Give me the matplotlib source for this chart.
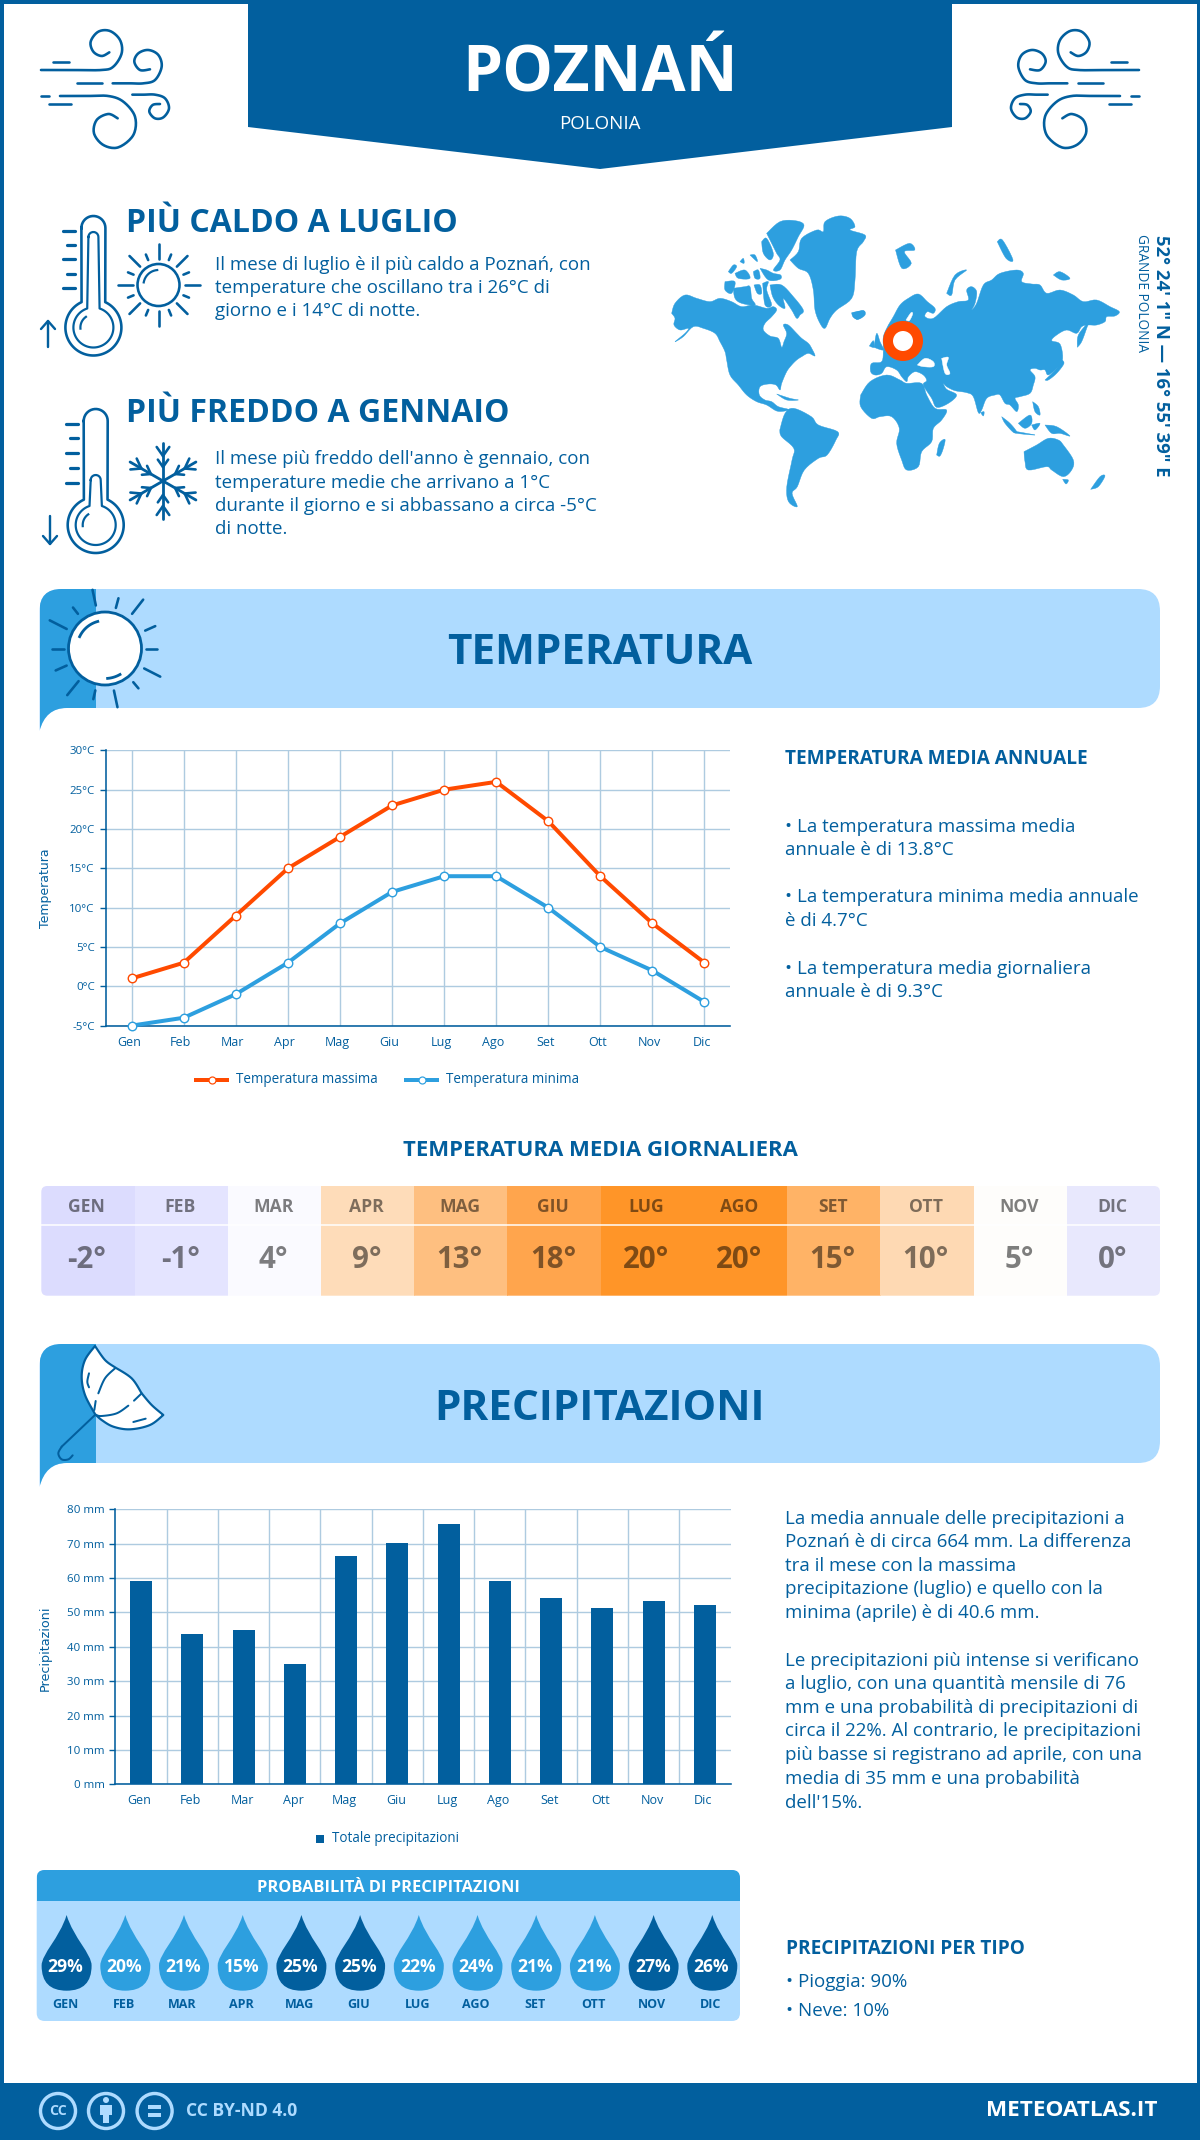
import numpy as np
import matplotlib
matplotlib.use("Agg")
import matplotlib.pyplot as plt
from matplotlib.patches import Circle, PathPatch, Polygon, Rectangle, FancyBboxPatch
from matplotlib.path import Path
from matplotlib.transforms import ScaledTranslation

W, H = 1200, 2140
DARK = "#025f9e"
MID = "#2d9fdf"
LIGHT = "#aedbff"
ORANGE = "#ff4a00"
GRID = "#aecbe0"

months = ["Gen", "Feb", "Mar", "Apr", "Mag", "Giu", "Lug", "Ago", "Set", "Ott", "Nov", "Dic"]
months_up = [m.upper() for m in months]
temp_max = [1, 3, 9, 15, 19, 23, 25, 26, 21, 14, 8, 3]
temp_min = [-5, -4, -1, 3, 8, 12, 14, 14, 10, 5, 2, -2]
temp_avg = [-2, -1, 4, 9, 13, 18, 20, 20, 15, 10, 5, 0]
temp_cols = ["#dcdcfe", "#e4e4ff", "#fafaff", "#fedcb9", "#febf80", "#ffa54d",
             "#ff9528", "#ff9528", "#ffb366", "#fed9b3", "#fefdfb", "#e8e8fd"]
rain = [59, 43.6, 44.8, 35, 66.4, 70.2, 75.6, 59.2, 54.2, 51.2, 53.3, 52.2]
rain_prob = [29, 20, 21, 15, 25, 25, 22, 24, 21, 21, 27, 26]

plt.rcParams["font.family"] = ["Open Sans", "DejaVu Sans"]

fig = plt.figure(figsize=(W / 100, H / 100), dpi=100, facecolor="white")
bg = fig.add_axes([0, 0, 1, 1])
bg.set_xlim(0, W)
bg.set_ylim(H, 0)
bg.axis("off")


def px(size):
    return size * 0.72


def txt(x, y, s, size, color=DARK, weight="normal", ha="left", va="center", **kw):
    bg.text(x, y, s, fontsize=px(size), color=color, fontweight=weight, ha=ha, va=va, **kw)


def smooth(pts, n=12):
    # catmull-rom, only for the icons and the map outline
    p = np.array(pts, dtype=float)
    p = np.vstack([p[0], p, p[-1]])
    out = []
    for i in range(1, len(p) - 2):
        for t in np.linspace(0, 1, n, endpoint=False):
            out.append(0.5 * (2 * p[i] + (p[i + 1] - p[i - 1]) * t
                              + (2 * p[i - 1] - 5 * p[i] + 4 * p[i + 1] - p[i + 2]) * t ** 2
                              + (3 * p[i] - p[i - 1] - 3 * p[i + 1] + p[i + 2]) * t ** 3))
    out.append(p[-2])
    return np.array(out)


def stroke(pts, lw=2.6, color=DARK, curve=True, z=5):
    a = smooth(pts) if curve else np.array(pts, dtype=float)
    bg.plot(a[:, 0], a[:, 1], color=color, lw=px(lw), solid_capstyle="round", zorder=z)


def ray_ring(cx, cy, r0s, r1s, angs, lw=2.6):
    for r0, r1, a in zip(r0s, r1s, angs):
        c, s = np.cos(np.radians(a)), np.sin(np.radians(a))
        stroke([(cx + r0 * c, cy + r0 * s), (cx + r1 * c, cy + r1 * s)], lw=lw, curve=False)


# frame and header
bg.add_patch(Rectangle((0, 0), 3.5, H, color=DARK, lw=0))
bg.add_patch(Rectangle((W - 3.5, 0), 3.5, H, color=DARK, lw=0))
bg.add_patch(Rectangle((0, 0), W, 3.5, color=DARK, lw=0))
bg.add_patch(Polygon([(248, 0), (952, 0), (952, 127), (600, 169), (248, 127)], color=DARK, lw=0))
txt(600, 67, "POZNAŃ", 64, "white", "bold", ha="center", va="center_baseline")
txt(600, 124, "POLONIA", 18.8, "white", ha="center")

wind = [
    [(33, 150), (120, 150), (215, 150), (250, 140), (275, 100), (270, 60), (240, 33), (205, 35), (182, 65), (190, 95), (215, 108), (238, 97)],
    [(248, 190), (300, 190), (340, 190), (375, 180), (395, 140), (385, 105), (355, 90), (325, 100), (313, 125), (330, 150), (360, 148)],
    [(90, 228), (170, 228), (235, 228), (280, 245), (315, 290), (310, 345), (265, 382), (220, 375), (192, 340), (200, 300), (235, 282), (263, 295)],
    [(307, 224), (340, 224), (375, 224), (405, 235), (417, 265), (400, 292), (375, 295), (358, 275), (368, 255), (390, 252)],
]
dashes = [[(70, 125), (118, 125)], [(140, 190), (215, 190)], [(33, 228), (58, 228)], [(57, 252), (122, 252)]]
for mirror in (False, True):
    for shape in wind + dashes:
        pts = [(30 + x / 3, 20 + y / 3) for x, y in shape]
        if mirror:
            pts = [(1180 - x, y) for x, y in pts]
        stroke(pts, 2.6, curve=len(pts) > 2)


def thermometer(cx, cy, top, inner_top, tick_ys, arrow_x, arrow_from, arrow_to):
    cap = np.linspace(np.pi, 0, 20)
    bulb = np.linspace(np.radians(-65), np.radians(245), 90)
    ox = np.r_[cx + 12 * np.cos(cap), cx + 28 * np.cos(bulb)]
    oy = np.r_[top + 12 - 12 * np.sin(cap), cy + 28 * np.sin(bulb)]
    bg.plot(np.r_[ox, ox[0]], np.r_[oy, oy[0]], color=DARK, lw=px(2.6))
    bulb2 = np.linspace(np.radians(-72), np.radians(252), 80)
    cap2 = np.linspace(np.pi, 0, 12)
    ix = np.r_[cx + 5 * np.cos(cap2), cx + 20 * np.cos(bulb2)]
    iy = np.r_[inner_top + 5 - 5 * np.sin(cap2), cy + 20 * np.sin(bulb2)]
    bg.plot(np.r_[ix, ix[0]], np.r_[iy, iy[0]], color=DARK, lw=px(2.2))
    shine = np.linspace(np.radians(175), np.radians(235), 12)
    bg.plot(cx + 13 * np.cos(shine), cy + 13 * np.sin(shine), color=DARK, lw=px(2.2))
    for i, y in enumerate(tick_ys):
        x0 = cx - 30 if i % 2 == 0 else cx - 26
        stroke([(x0, y), (cx - 18, y)], 3.2, curve=False)
    stroke([(arrow_x, arrow_from), (arrow_x, arrow_to)], 2.4, curve=False)
    d = 1 if arrow_to > arrow_from else -1
    stroke([(arrow_x - 7, arrow_to - d * 8), (arrow_x, arrow_to), (arrow_x + 7, arrow_to - d * 8)], 2.4, curve=False)


thermometer(93.4, 327.5, 216, 232, [231, 245, 259, 274, 288], 48, 347, 321)
thermometer(95.7, 525, 409, 475, [424, 438, 453, 468, 483], 50, 516, 544)

# small sun
bg.add_patch(Circle((158.5, 285), 21, fc="none", ec=DARK, lw=px(2.6)))
shine = np.linspace(np.radians(190), np.radians(265), 12)
bg.plot(158.5 + 15 * np.cos(shine), 285 + 15 * np.sin(shine), color=DARK, lw=px(2.2))
a_s = np.arange(0, 360, 22.5)
ray_ring(158.5, 285, [27 if i % 2 else 26 for i in range(16)],
         [33 if i % 2 else 41 for i in range(16)], a_s)

# snowflake
for a in (90, 30, 150):
    c, s = np.cos(np.radians(a)), np.sin(np.radians(a))
    stroke([(163 - 38 * c, 481 - 38 * s), (163 + 38 * c, 481 + 38 * s)], 2.8, curve=False)
    for sign in (-1, 1):
        for r, l in ((14, 9), (25, 11)):
            bx, by = 163 + sign * r * c, 481 + sign * r * s
            for da in (35, -35):
                e = np.radians(a + da)
                stroke([(bx, by), (bx + sign * l * np.cos(e), by + sign * l * np.sin(e))], 2.6, curve=False)

# section intro text
txt(125.5, 220, "PIÙ CALDO A LUGLIO", 32, weight="bold", va="center_baseline")
txt(125.5, 410, "PIÙ FREDDO A GENNAIO", 32, weight="bold", va="center_baseline")
hot = ["Il mese di luglio è il più caldo a Poznań, con",
       "temperature che oscillano tra i 26°C di",
       "giorno e i 14°C di notte."]
cold = ["Il mese più freddo dell'anno è gennaio, con",
        "temperature medie che arrivano a 1°C",
        "durante il giorno e si abbassano a circa -5°C",
        "di notte."]
for y, s in zip([264.5, 288, 311.5], hot):
    txt(215, y, s, 18.8)
for y, s in zip([459, 482.5, 506, 529.5], cold):
    txt(215, y, s, 18.8)

land_west = [
    [(5, 310), (15, 280), (45, 255), (80, 265), (120, 275), (150, 265), (185, 275), (215, 290), (250, 285), (290, 295),
     (310, 290), (320, 300), (305, 320), (285, 340), (280, 360), (300, 378), (325, 385), (335, 412), (342, 395),
     (350, 370), (340, 345), (355, 345), (380, 370), (395, 385), (415, 400), (425, 415), (435, 438), (415, 430),
     (395, 440), (380, 450), (365, 465), (350, 485), (335, 520), (330, 540), (318, 525), (295, 522), (270, 530),
     (268, 555), (285, 570), (305, 575), (325, 590), (355, 598), (345, 603), (320, 603), (290, 585), (260, 575),
     (230, 555), (205, 525), (180, 495), (170, 450), (165, 425), (150, 395), (135, 370), (100, 355), (70, 350),
     (40, 380), (15, 395), (45, 370), (55, 355), (30, 360), (12, 345), (15, 325)],
    [(360, 150), (385, 125), (395, 85), (440, 60), (460, 65), (465, 35), (505, 18), (540, 25), (555, 50), (540, 60),
     (585, 75), (580, 95), (560, 125), (555, 210), (545, 265), (500, 300), (480, 325), (465, 355), (450, 340),
     (435, 300), (430, 240), (415, 190), (385, 175)],
    [(290, 70), (330, 35), (375, 32), (402, 45), (385, 80), (365, 120), (345, 150), (330, 180), (310, 180), (330, 150),
     (320, 130), (305, 100)],
    [(275, 95), (290, 85), (310, 130), (300, 150), (280, 130)],
    [(175, 185), (190, 165), (200, 170), (185, 190)],
    [(210, 155), (220, 145), (222, 160)],
    [(240, 135), (255, 135), (262, 155)],
    [(195, 190), (225, 180), (240, 205), (205, 205)],
    [(250, 185), (265, 180), (270, 205), (255, 205)],
    [(270, 175), (290, 180), (310, 190), (332, 195), (330, 208), (295, 210)],
    [(165, 215), (195, 215), (185, 250), (165, 240)],
    [(190, 235), (225, 230), (240, 230), (245, 265), (255, 285), (215, 280), (195, 265)],
    [(252, 225), (270, 225), (275, 250), (262, 250)],
    [(278, 220), (295, 215), (290, 240), (305, 285), (285, 285)],
    [(300, 225), (335, 225), (370, 260), (400, 300), (390, 315), (380, 325), (365, 300), (340, 265), (345, 295),
     (325, 285), (308, 260)],
    [(545, 310), (580, 302), (585, 315), (565, 328), (550, 322)],
    [(320, 552), (360, 565), (385, 570), (350, 570)],
]
land_east = [
    [(145, 165), (160, 140), (180, 105), (205, 85), (235, 72), (262, 95), (285, 115), (280, 130), (262, 125), (255, 140),
     (280, 145), (320, 110), (355, 95), (385, 90), (380, 60), (395, 50), (410, 65), (405, 100), (395, 120), (410, 100),
     (430, 45), (455, 30), (480, 10), (530, 0), (550, 10), (545, 35), (575, 42), (600, 45), (620, 70), (660, 60),
     (700, 75), (730, 95), (770, 90), (810, 110), (838, 125), (825, 138), (800, 140), (795, 155), (770, 165), (745, 165),
     (725, 170), (710, 190), (680, 180), (650, 195), (635, 212), (660, 222), (668, 265), (655, 290), (625, 315),
     (615, 300), (600, 300), (585, 295), (570, 300), (585, 320), (580, 345), (570, 370), (540, 380), (525, 385),
     (535, 405), (530, 425), (510, 405), (495, 400), (480, 375), (465, 375), (440, 385), (425, 420), (415, 428),
     (400, 380), (380, 368), (345, 362), (320, 350), (310, 340), (320, 358), (350, 375), (325, 400), (290, 412),
     (275, 385), (250, 345), (260, 332), (250, 315), (225, 305), (205, 320), (200, 335), (185, 320), (170, 300),
     (140, 290), (125, 310), (105, 315), (92, 305), (95, 280), (125, 275), (130, 240), (130, 200)],
    [(62, 375), (90, 335), (140, 315), (180, 330), (200, 340), (245, 340), (260, 375), (285, 415), (320, 420),
     (305, 450), (280, 475), (275, 515), (245, 545), (235, 590), (200, 600), (185, 570), (170, 520), (178, 475),
     (155, 440), (120, 440), (95, 445), (62, 410)],
    [(290, 555), (298, 520), (315, 508), (310, 535), (300, 558)],
    [(712, 232), (715, 195), (745, 158), (740, 175), (725, 215)],
    [(615, 330), (650, 295), (660, 270), (672, 280), (650, 310), (625, 330)],
    [(610, 295), (640, 270), (635, 290)],
    [(535, 460), (570, 435), (575, 460), (555, 475)],
    [(485, 440), (510, 460), (530, 485), (520, 487), (495, 460)],
    [(520, 483), (585, 495), (530, 490)],
    [(575, 465), (600, 460), (585, 480)],
    [(615, 465), (650, 470), (690, 498), (660, 490), (635, 490)],
    [(578, 395), (595, 410), (600, 435), (585, 425)],
    [(552, 545), (590, 525), (625, 505), (655, 510), (670, 525), (700, 570), (695, 600), (670, 620), (635, 600),
     (620, 590), (565, 600), (555, 575)],
    [(668, 628), (685, 630), (678, 642)],
    [(752, 658), (780, 620), (795, 618), (775, 650)],
    [(422, 428), (432, 425), (430, 438)],
    [(102, 232), (110, 190), (120, 215), (130, 240)],
    [(88, 228), (100, 212), (102, 232)],
    [(320, 70), (345, 15), (380, 0), (345, 30), (335, 75)],
    [(35, 128), (70, 122), (72, 135), (50, 148)],
    [(640, 15), (660, 5), (690, 25), (665, 30)],
]
water_east = [
    [(232, 285), (255, 265), (280, 275), (280, 290), (250, 290)],
    [(305, 265), (325, 262), (320, 285), (330, 310), (315, 310)],
    [(198, 150), (213, 128), (218, 132), (208, 152)],
]
# south america and the polar islands come from the wider crop at (650, 200), 2.851 x 3
land_wide = [
    [(370, 690), (385, 640), (410, 625), (460, 650), (480, 675), (535, 695), (530, 720), (505, 765), (480, 775),
     (440, 810), (420, 860), (405, 880), (420, 920), (395, 905), (390, 860), (405, 780), (410, 745), (375, 710)],
    [(700, 150), (740, 130), (755, 150), (725, 155), (745, 190), (718, 205)],
    [(990, 125), (1005, 120), (1035, 180), (1015, 175)],
]


def blob(points, map_x, map_y, color, z):
    pts = [(map_x(x), map_y(y)) for x, y in points]
    bg.add_patch(Polygon(smooth(pts + [pts[0]], 5), color=color, lw=0.3, zorder=z))


for pts in land_west:
    blob(pts, lambda v: 670 + v / 3, lambda v: 210 + v / 3, MID, 2)
for pts in land_east:
    blob(pts, lambda v: 840 + v / 3, lambda v: 270 + v / 3, MID, 2)
for pts in land_wide:
    blob(pts, lambda v: 650 + v / 2.851, lambda v: 200 + v / 3, MID, 2)
for pts in water_east:
    blob(pts, lambda v: 840 + v / 3, lambda v: 270 + v / 3, "white", 3)
bg.add_patch(Circle((903, 341), 15, fc="white", ec=ORANGE, lw=px(10), zorder=4))

bg.text(1161, 356, "52° 24' 1\" N — 16° 55' 39\" E", fontsize=px(18.5), color=DARK, fontweight="bold",
        rotation=-90, ha="center", va="center")
bg.text(1141.5, 293, "GRANDE POLONIA", fontsize=px(13.6), color=DARK, rotation=-90, ha="center", va="center")


def banner(top, bottom, tail, tab_right, title):
    x0, x1, r = 39.5, 1160, 22
    verts = [(x0, tail), (x0, top + r), (x0, top), (x0 + r, top), (x1 - r, top), (x1, top), (x1, top + r),
             (x1, bottom - r), (x1, bottom), (x1 - r, bottom), (x0 + 27, bottom), (x0 + 6, bottom), (x0, tail), (x0, tail)]
    codes = [Path.MOVETO, Path.LINETO, Path.CURVE3, Path.CURVE3, Path.LINETO, Path.CURVE3, Path.CURVE3,
             Path.LINETO, Path.CURVE3, Path.CURVE3, Path.LINETO, Path.CURVE3, Path.CURVE3, Path.CLOSEPOLY]
    shape = Path(verts, codes)
    bg.add_patch(PathPatch(shape, fc=LIGHT, ec="none", zorder=1))
    tab = Rectangle((x0, top), tab_right - x0, tail - top, fc=MID, ec="none", zorder=1.5)
    bg.add_patch(tab)
    tab.set_clip_path(PathPatch(shape, transform=bg.transData))
    txt(600, (top + bottom) / 2 + 0.5, title, 42.2, weight="bold", ha="center", va="center_baseline")


banner(589, 708, 731, 96, "TEMPERATURA")
banner(1344, 1463, 1487, 96, "PRECIPITAZIONI")

# big sun
bg.add_patch(Circle((105, 648.5), 36.5, fc="white", ec=DARK, lw=px(2.8), zorder=5))
a = np.radians(np.linspace(205, 255, 12))
bg.plot(105 + 28 * np.cos(a), 648.5 + 28 * np.sin(a), color=DARK, lw=px(2.8), zorder=6)
a = np.radians(np.linspace(60, 85, 8))
bg.plot(105 + 30 * np.cos(a), 648.5 + 30 * np.sin(a), color=DARK, lw=px(2.8), zorder=6)
a_big = [0, 27, 50, 78, 103, 129, 156, 180, 207, 232, 258, 285, 308, 336]
r_in = [41, 44, 44, 43, 43, 42, 42, 41, 43, 44, 44, 42, 44, 44]
r_out = [52, 62, 52, 60, 52, 60, 54, 53, 62, 52, 60, 52, 62, 55]
for ang, r0, r1 in zip(a_big, r_in, r_out):
    c, s = np.cos(np.radians(ang)), np.sin(np.radians(ang))
    bg.plot([105 + r0 * c, 105 + r1 * c], [648.5 + r0 * s, 648.5 + r1 * s], color=DARK, lw=px(2.6),
            solid_capstyle="round", zorder=5)


def um(pts):
    return [(30 + x / 3, 1340 + y / 3) for x, y in pts]


um_edges = [
    [(195, 18), (225, 60), (255, 82)],
    [(255, 82), (305, 115), (335, 160)],
    [(335, 160), (365, 195), (400, 225)],
    [(400, 225), (360, 255), (300, 268), (250, 260), (215, 240), (195, 222)],
    [(195, 222), (165, 165), (155, 110), (165, 60), (195, 18)],
]
um_outline = np.vstack([smooth(um(e), 8) for e in um_edges])
bg.add_patch(Polygon(um_outline, fc="white", ec=DARK, lw=px(2.2), joinstyle="round", zorder=5))
for pts in ([(255, 85), (225, 115), (205, 160)], [(197, 183), (193, 210)], [(335, 160), (312, 182)],
            [(295, 197), (260, 220), (215, 228), (198, 225)], [(177, 100), (172, 125), (177, 142)],
            [(310, 246), (347, 236)]):
    stroke(um(pts), 2.0, z=6, curve=len(pts) > 2)
stroke(um([(195, 225), (95, 320)]), 2.0, z=6, curve=False)
stroke(um([(95, 320), (85, 340), (95, 358), (115, 358), (128, 346)]), 2.0, z=6)

# temperature chart
ax = fig.add_axes([105.7 / W, 1 - 1025.6 / H, (730.5 - 105.7) / W, (1025.6 - 750.4) / H])
ax.patch.set_alpha(0)
x = np.arange(12)
ax.plot(x, temp_max, color=ORANGE, lw=px(4), marker="o", ms=px(8.5), mfc="white", mec=ORANGE, mew=px(1.4),
        clip_on=False, zorder=4)
ax.plot(x, temp_min, color=MID, lw=px(4), marker="o", ms=px(8.5), mfc="white", mec=MID, mew=px(1.4),
        clip_on=False, zorder=4)
ax.set_xlim(-0.5, 11.5)
ax.set_ylim(-5, 30)
ax.set_yticks(np.arange(-5, 31, 5))
ax.set_yticklabels([f"{v}°C" for v in range(-5, 31, 5)])
ax.set_xticks(x)
ax.set_xticklabels(months)
ax.grid(True, color=GRID, lw=px(1.4))
ax.set_axisbelow(True)

# rain chart
ax2 = fig.add_axes([115.4 / W, 1 - 1784.3 / H, (730.5 - 115.4) / W, (1784.3 - 1509.3) / H])
ax2.patch.set_alpha(0)
ax2.bar(x, rain, width=0.43, color=DARK, zorder=3)
ax2.set_xlim(-0.5, 11.5)
ax2.set_ylim(0, 80)
ax2.set_yticks(np.arange(0, 81, 10))
ax2.set_yticklabels([f"{v} mm" for v in range(0, 81, 10)])
ax2.set_xticks(x)
ax2.set_xticklabels(months)
ax2.set_xticks(np.arange(0.5, 11, 1), minor=True)
ax2.grid(True, axis="y", color=GRID, lw=px(1.4))
ax2.grid(True, axis="x", which="minor", color=GRID, lw=px(1.4))
ax2.tick_params(axis="x", which="minor", length=0)
ax2.set_axisbelow(True)

for a_, shift in ((ax, -3), (ax2, -1.5)):
    for side in ("top", "right"):
        a_.spines[side].set_visible(False)
    for side in ("left", "bottom"):
        a_.spines[side].set_color(DARK)
        a_.spines[side].set_linewidth(px(1.6))
    a_.tick_params(axis="y", color=DARK, length=px(6), width=px(1.4), labelcolor=DARK, labelsize=px(11.5), pad=px(5))
    a_.tick_params(axis="x", length=0, labelcolor=DARK, labelsize=px(12.5), pad=px(10))
    for lbl in a_.get_xticklabels():
        lbl.set_transform(lbl.get_transform() + ScaledTranslation(shift / 100, 0, fig.dpi_scale_trans))

txt(45, 888.5, "Temperatura", 12.5, rotation=90, ha="center", family="DejaVu Sans")
txt(45, 1648, "Precipitazioni", 12.7, rotation=90, ha="center", family="DejaVu Sans")

# legends by hand, same spacing as the source
y_leg = 1079.6
bg.plot([196, 227], [y_leg, y_leg], color=ORANGE, lw=px(4))
bg.plot([212], [y_leg], "o", ms=px(7), mfc="white", mec=ORANGE, mew=px(1.2))
txt(236, y_leg, "Temperatura massima", 13.5)
bg.plot([406, 437], [y_leg, y_leg], color=MID, lw=px(4))
bg.plot([421.5], [y_leg], "o", ms=px(7), mfc="white", mec=MID, mew=px(1.2))
txt(446, y_leg, "Temperatura minima", 13.5)
bg.add_patch(Rectangle((316, 1834.7), 8, 8, color=DARK, lw=0))
txt(332, 1838.7, "Totale precipitazioni", 13.5)

# right column, temperature
txt(785, 758.5, "TEMPERATURA MEDIA ANNUALE", 19, weight="bold")
notes = ["• La temperatura massima media", "annuale è di 13.8°C",
         "• La temperatura minima media annuale", "è di 4.7°C",
         "• La temperatura media giornaliera", "annuale è di 9.3°C"]
for y, s in zip([827, 850, 897.5, 921, 968.5, 992], notes):
    txt(785, y, s, 18.8)

# daily average table
txt(600, 1150, "TEMPERATURA MEDIA GIORNALIERA", 22.2, weight="bold", ha="center")
x0, cw = 41.3, (1160 - 41.3) / 12
table_clip = FancyBboxPatch((x0 + 5, 1186 + 5), 1160 - x0 - 10, 109.7 - 10, boxstyle="round,pad=5,rounding_size=6",
                            transform=bg.transData)
for i in range(12):
    cell = Rectangle((x0 + i * cw, 1186), cw + 0.3, 109.7, fc=temp_cols[i], ec="none")
    bg.add_patch(cell)
    cell.set_clip_path(table_clip)
    txt(x0 + (i + 0.5) * cw - 1, 1207, months_up[i], 17.5, "#00000080", "bold", ha="center")
    txt(x0 + (i + 0.5) * cw - 1, 1260.5, f"{temp_avg[i]}°", 29.5, "#00000080", "bold", ha="center")
bg.plot([x0, 1160], [1225.3, 1225.3], color="white", lw=px(1.5))

# right column, rain
rain_text = {
    1518.5: "La media annuale delle precipitazioni a", 1542: "Poznań è di circa 664 mm. La differenza",
    1566: "tra il mese con la massima", 1589.5: "precipitazione (luglio) e quello con la",
    1613.5: "minima (aprile) è di 40.6 mm.", 1660.5: "Le precipitazioni più intense si verificano",
    1684: "a luglio, con una quantità mensile di 76", 1708: "mm e una probabilità di precipitazioni di",
    1731.5: "circa il 22%. Al contrario, le precipitazioni", 1755: "più basse si registrano ad aprile, con una",
    1779: "media di 35 mm e una probabilità", 1802.5: "dell'15%.",
}
for y, s in rain_text.items():
    txt(785, y, s, 18.8)

# probability box
box = FancyBboxPatch((36.7 + 6, 1870 + 6), 703.3 - 12, 151 - 12, boxstyle="round,pad=6,rounding_size=8",
                     fc=LIGHT, ec="none")
bg.add_patch(box)
head = Rectangle((36.7, 1870), 703.3, 31, fc=MID, ec="none")
bg.add_patch(head)
head.set_clip_path(FancyBboxPatch((42.7, 1876), 691.3, 139, boxstyle="round,pad=6,rounding_size=8",
                                  transform=bg.transData))
txt(388, 1887.5, "PROBABILITÀ DI PRECIPITAZIONI", 16.4, "white", "bold", ha="center")
for i, p in enumerate(rain_prob):
    cx = 66.6 + 58.7 * i
    col = DARK if p >= 25 else MID
    verts = [(cx, 1915), (cx + 7, 1938), (cx + 25, 1965.7 - 12), (cx + 25, 1965.7), (cx + 25, 1990.7), (cx, 1990.7),
             (cx - 25, 1990.7), (cx - 25, 1965.7), (cx - 25, 1965.7 - 12), (cx - 7, 1938), (cx, 1915)]
    codes = [Path.MOVETO] + [Path.CURVE4] * 3 + [Path.CURVE3] * 4 + [Path.CURVE4] * 3
    bg.add_patch(PathPatch(Path(verts, codes), fc=col, ec="none"))
    txt(cx - 1, 1966.5, f"{p}%", 17.5, "white", "bold", ha="center")
    txt(cx - 1.5, 2004, months_up[i], 12.5, DARK, "bold", ha="center")

txt(785.5, 1949, "PRECIPITAZIONI PER TIPO", 19, weight="bold")
txt(785.5, 1982, "• Pioggia: 90%", 18.8)
txt(785.5, 2011, "• Neve: 10%", 18.8)

# footer
bg.add_patch(Rectangle((0, 2082.5), W, 60, color=DARK, lw=0, zorder=6))
for cx in (58, 106, 154.6):
    bg.add_patch(Circle((cx, 2111), 17.5, fc="none", ec=LIGHT, lw=px(3.4), zorder=7))
txt(58, 2111, "CC", 14, LIGHT, "bold", ha="center", zorder=8)
bg.add_patch(Circle((106, 2100), 3, color=LIGHT, lw=0, zorder=8))
bg.add_patch(Rectangle((100, 2105), 12, 10, color=LIGHT, lw=0, zorder=8))
bg.add_patch(Rectangle((103, 2114), 6, 9, color=LIGHT, lw=0, zorder=8))
bg.add_patch(Rectangle((148, 2105), 13, 4, color=LIGHT, lw=0, zorder=8))
bg.add_patch(Rectangle((148, 2113), 13, 4, color=LIGHT, lw=0, zorder=8))
txt(186, 2111, "CC BY-ND 4.0", 17.5, LIGHT, "bold", zorder=8)
txt(1158, 2111, "METEOATLAS.IT", 22.5, "white", "bold", ha="right", zorder=8)

fig.savefig("out.png", dpi=100, facecolor="white")
